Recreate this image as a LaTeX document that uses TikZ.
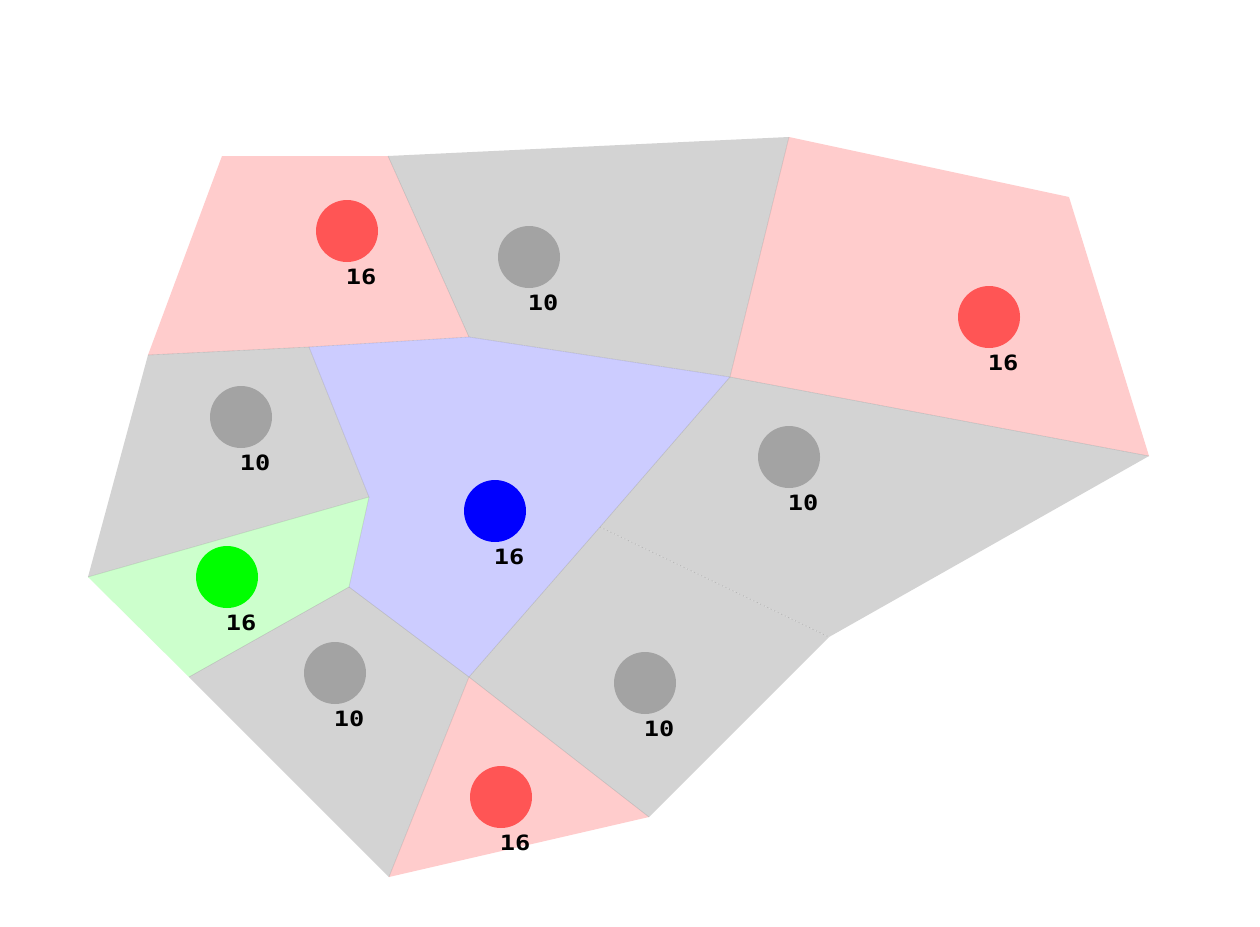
\documentclass[tikz,border=0pt]{standalone}
\usepackage{fontspec}
\newfontfamily\labfont{DejaVu Sans Mono}
\begin{document}
\begin{tikzpicture}[x=0.02cm,y=-0.02cm,
  pinkreg/.style={fill=pinkfill},
  grayreg/.style={fill=grayfill},
  bluereg/.style={fill=bluefill},
  greenreg/.style={fill=greenfill},
  edge/.style={draw=black,draw opacity=0.12,line width=0.35pt},
  dotedge/.style={draw=black,draw opacity=0.18,line width=0.35pt,dash pattern=on 0.6pt off 1.6pt},
  site/.style={circle,minimum size=62*0.02cm,inner sep=0pt},
  redsite/.style={site,fill=redsite},
  graysite/.style={site,fill=graysite},
  bluesite/.style={site,fill=bluesite},
  greensite/.style={site,fill=greensite},
  val/.style={font=\labfont\bfseries\fontsize{12pt}{12pt}\selectfont,inner sep=0pt,xscale=1.2}
]
\definecolor{pinkfill}{HTML}{FFCCCC}
\definecolor{grayfill}{HTML}{D3D3D3}
\definecolor{bluefill}{HTML}{CCCCFF}
\definecolor{greenfill}{HTML}{CCFFCC}
\definecolor{redsite}{HTML}{FF5555}
\definecolor{graysite}{HTML}{A3A3A3}
\definecolor{bluesite}{HTML}{0000FF}
\definecolor{greensite}{HTML}{00FF00}
\useasboundingbox[fill=white] (0,0) rectangle (1260,926);
% vertices
\coordinate (A) at (222,156);
\coordinate (B) at (388,156);
\coordinate (C) at (789,137);
\coordinate (D) at (1069,197);
\coordinate (E) at (1149,456);
\coordinate (F) at (148,355);
\coordinate (G) at (309,347);
\coordinate (H) at (469,337);
\coordinate (I) at (730,377);
\coordinate (J) at (369,497);
\coordinate (K) at (88,577);
\coordinate (L) at (600,527);
\coordinate (M) at (349,587);
\coordinate (N) at (829,637);
\coordinate (O) at (189,677);
\coordinate (P) at (469,677);
\coordinate (Q) at (649,817);
\coordinate (R) at (389,877);
% regions
\fill[pinkreg] (A) -- (B) -- (H) -- (G) -- (F) -- cycle;
\fill[grayreg] (B) -- (C) -- (I) -- (H) -- cycle;
\fill[pinkreg] (C) -- (D) -- (E) -- (I) -- cycle;
\fill[grayreg] (F) -- (G) -- (J) -- (K) -- cycle;
\fill[bluereg] (G) -- (H) -- (I) -- (L) -- (P) -- (M) -- (J) -- cycle;
\fill[grayreg] (I) -- (E) -- (N) -- (L) -- cycle;
\fill[greenreg] (K) -- (J) -- (M) -- (O) -- cycle;
\fill[grayreg] (O) -- (M) -- (P) -- (R) -- cycle;
\fill[pinkreg] (P) -- (Q) -- (R) -- cycle;
\fill[grayreg] (L) -- (N) -- (Q) -- (P) -- cycle;
% internal edges
\draw[edge] (F) -- (G) -- (H) -- (I) -- (E);
\draw[edge] (B) -- (H);
\draw[edge] (C) -- (I) -- (L) -- (P) -- (R);
\draw[edge] (G) -- (J) -- (K);
\draw[edge] (J) -- (M) -- (O);
\draw[edge] (M) -- (P) -- (Q);
\draw[dotedge] (L) -- (N);
% sites
\node[redsite] (s1) at (347,231) {};
\node[graysite] (s2) at (529,257) {};
\node[redsite] (s3) at (989,317) {};
\node[graysite] (s4) at (241,417) {};
\node[bluesite] (s5) at (495,511) {};
\node[graysite] (s6) at (789,457) {};
\node[greensite] (s7) at (227,577) {};
\node[graysite] (s8) at (335,673) {};
\node[graysite] (s9) at (645,683) {};
\node[redsite] (s10) at (501,797) {};
% labels
\node[val] (v1) at (361,277) {16};
\node[val] (v2) at (543,303) {10};
\node[val] (v3) at (1003,363) {16};
\node[val] (v4) at (255,463) {10};
\node[val] (v5) at (509,557) {16};
\node[val] (v6) at (803,503) {10};
\node[val] (v7) at (241,623) {16};
\node[val] (v8) at (349,719) {10};
\node[val] (v9) at (659,729) {10};
\node[val] (v10) at (515,843) {16};
\end{tikzpicture}
\end{document}
